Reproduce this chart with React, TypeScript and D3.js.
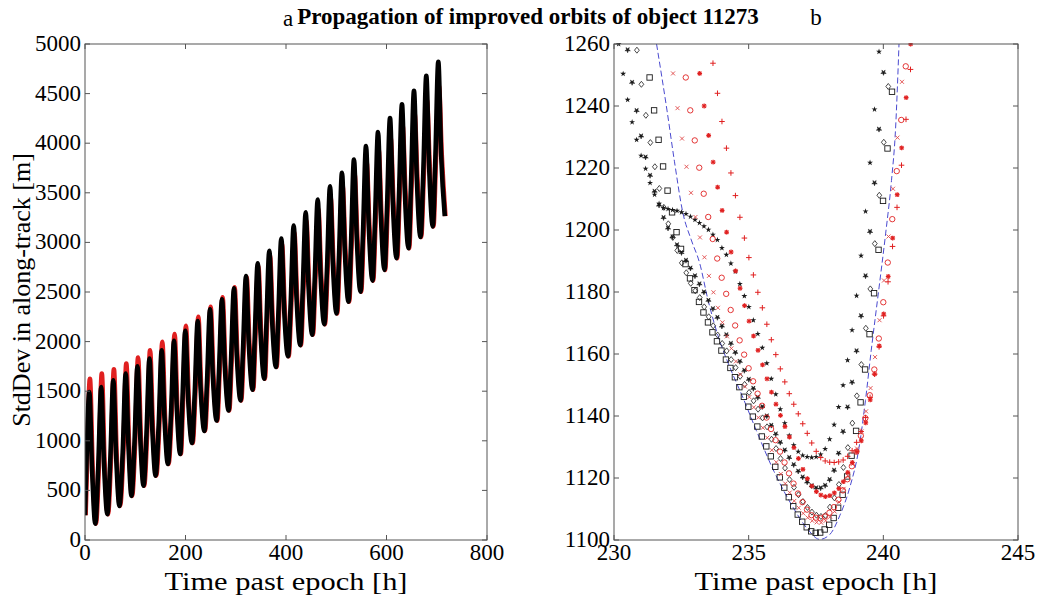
import React from 'react';
import * as d3 from 'd3';

// ---------- Panel a : long-term propagation ----------
const startPoint: [number, number] = [0, 250];
const peakTimes = [8.6, 32.2, 56.3, 81, 104.4, 128.3, 152.6, 177.1, 199.6, 224.3, 248.8, 272.6, 296.5, 320.4, 343.7, 366.8, 390.7, 415.3, 439.2, 463.1, 487.6, 511.4, 535.3, 559.2, 583.1, 607, 630.8, 654.7, 679.2, 703.1];
const blackPeakValues = [1491, 1542, 1609, 1677, 1751, 1829, 1913, 2007, 2110, 2206, 2325, 2426, 2537, 2662, 2790, 2915, 3040, 3171, 3303, 3431, 3566, 3701, 3836, 3971, 4113, 4254, 4393, 4528, 4680, 4821];
const redPeakValues = [1626, 1677, 1721, 1778, 1839, 1913, 1997, 2075, 2160, 2250, 2351, 2446, 2547, 2650, 2760, 2870, 2985, 3100, 3220, 3335, 3455, 3575, 3695, 3815, 3940, 4060, 4185, 4305, 4440, 4580];
const riseTimes = [2.6, 26.2, 50.3, 75, 98.4, 122.3, 146.6, 171.1, 193.6, 218.3, 242.8, 266.6, 290.5, 314.4, 337.7, 360.8, 384.7, 409.3, 433.2, 457.1, 481.6, 505.4, 529.3, 553.2, 577.1, 601, 624.8, 648.7, 673.2, 697.1];
const riseValues = [720, 716, 800, 878, 967, 1060, 1155, 1262, 1365, 1470, 1590, 1693, 1798, 1909, 2025, 2141, 2263, 2380, 2500, 2614, 2732, 2851, 2974, 3090, 3214, 3335, 3462, 3576, 3704, 3825];
const fallTimes = [14.2, 37.8, 61.9, 86.6, 110, 133.9, 158.2, 182.7, 205.2, 229.9, 254.4, 278.2, 302.1, 326, 349.3, 372.4, 396.3, 420.9, 444.8, 468.7, 493.2, 517, 540.9, 564.8, 588.7, 612.6, 636.4, 660.3, 684.8, 708.7];
const fallValues = [695, 773, 850, 938, 1029, 1120, 1224, 1323, 1431, 1542, 1652, 1754, 1859, 1974, 2092, 2212, 2327, 2447, 2563, 2678, 2797, 2922, 3036, 3157, 3279, 3406, 3522, 3644, 3769, 3887];
const troughTimes = [20.5, 44.5, 68.5, 92.5, 116.5, 140.5, 165, 189.5, 213, 237.6, 262, 285.8, 309.6, 333.5, 356.8, 380, 404, 428.4, 452.3, 476.2, 500.6, 524.4, 548.3, 572.2, 596.1, 620, 643.8, 667.7, 692.2, 716];
const troughValues = [165, 260, 344, 445, 547, 648, 766, 867, 978, 1100, 1204, 1306, 1407, 1515, 1626, 1744, 1852, 1964, 2070, 2176, 2284, 2402, 2503, 2615, 2723, 2841, 2942, 3054, 3161, 3265];
const redTimeShift = 1.2;

const leftXTicks = [0, 200, 400, 600, 800];
const leftYTicks = [0, 500, 1000, 1500, 2000, 2500, 3000, 3500, 4000, 4500, 5000];

// ---------- Panel b : zoom near one minimum ----------
const STEP = 1 / 6; // 10-minute sampling [h]
const pentagramStart = 230.173;
const pentagramValues = [1260, 1250.4, 1242, 1234.8, 1229.1, 1224, 1219.8, 1215.2, 1211.4, 1208.5, 1207.1, 1206.8, 1206.5, 1206.2, 1205.7, 1205.2, 1204.3, 1203.3, 1202.3, 1201.2, 1200.1, 1198.5, 1196.8, 1194.2, 1192, 1189.2, 1186.6, 1182.6, 1178.7, 1175.2, 1170.9, 1166.5, 1162, 1157, 1152, 1147, 1142.2, 1137.7, 1133.7, 1130.6, 1128.5, 1127.3, 1126.8, 1126.6, 1126.8, 1127.6, 1129.4, 1132.5, 1137.2, 1142.9, 1149.9, 1158, 1167.7, 1178.8, 1191.7, 1206, 1221.7, 1238.9, 1257.5];
const hexagramStart = 230.506;
const hexagramValues = [1258.1, 1247.6, 1238.5, 1230.3, 1223.5, 1217.6, 1212.5, 1208, 1204, 1200.6, 1197.8, 1195.2, 1192.7, 1190.2, 1187.7, 1185.2, 1182.6, 1180, 1177.3, 1174.6, 1171.8, 1169, 1166.2, 1163.4, 1160.5, 1157.6, 1154.7, 1151.8, 1148.9, 1146, 1143, 1140, 1137, 1134.2, 1131.5, 1129, 1126.6, 1124.3, 1122.2, 1120.3, 1118.7, 1117.5, 1116.8, 1116.8, 1117.6, 1119.5, 1122.5, 1128, 1135, 1142.9, 1150.9, 1161, 1172.3, 1185.2, 1199.5, 1215.2, 1232.5, 1250.8];
const diamondStart = 230.85;
const diamondValues = [1258, 1247, 1237, 1228.2, 1220.4, 1213.4, 1207.3, 1202, 1197.6, 1193.4, 1189.4, 1186.2, 1182.8, 1180.4, 1178.2, 1175.2, 1172, 1169.1, 1166.1, 1163.4, 1161, 1158.2, 1155.6, 1152.8, 1150.2, 1147.6, 1144.9, 1142.2, 1139.4, 1136.5, 1132.5, 1129.5, 1126.3, 1123.2, 1119.5, 1117, 1114.6, 1112.4, 1110.5, 1109, 1108, 1107.6, 1107.9, 1110.6, 1113.6, 1117.9, 1123.4, 1129.8, 1137.7, 1146.5, 1156.6, 1168.3, 1181, 1195.6, 1211.2, 1228.3, 1246.3];
const squareStart = 231.322;
const squareValues = [1249.2, 1238.6, 1229.1, 1220.5, 1212.7, 1205.7, 1199.3, 1193.9, 1189, 1184.4, 1180.6, 1176.8, 1173.4, 1170.2, 1167, 1164.1, 1161.1, 1158.2, 1155.5, 1152.5, 1149.3, 1146.2, 1143, 1139.8, 1136.6, 1133.4, 1130.2, 1127, 1123.6, 1120.2, 1116.9, 1113.8, 1110.9, 1108.2, 1105.9, 1104.1, 1102.8, 1102.3, 1102.4, 1103.4, 1104.9, 1107.1, 1110.4, 1114.6, 1120.5, 1127.2, 1135.2, 1144.4, 1155, 1166.4, 1179.6, 1193.6, 1209.4, 1226.3, 1244.6];
const crossStart = 232.192;
const crossValues = [1250.5, 1239.3, 1229.5, 1220.4, 1212, 1204.2, 1197.6, 1191.2, 1185.2, 1179.9, 1174.9, 1170.2, 1165.7, 1161.8, 1157.6, 1153.4, 1149.5, 1146.1, 1142.8, 1139.5, 1136.2, 1133, 1129, 1125.1, 1121.3, 1118.2, 1115.3, 1112.6, 1110.4, 1108.6, 1107.2, 1106.2, 1105.7, 1105.6, 1106.2, 1107.5, 1109.2, 1112.2, 1116.5, 1120.6, 1124.5, 1129.5, 1135, 1141.5, 1149, 1159, 1170.9, 1183.7, 1197.9, 1213.3, 1229.8, 1247.8];
const circleStart = 232.665;
const circleValues = [1249.2, 1238.6, 1228.9, 1220.1, 1211.7, 1204.2, 1197.1, 1190.8, 1184.6, 1179.4, 1174.2, 1169.2, 1164.4, 1159.8, 1155.4, 1151.2, 1147.2, 1143.3, 1139.5, 1135.8, 1132.2, 1128.5, 1125, 1121.5, 1118.2, 1115, 1112.2, 1109.8, 1108, 1107.2, 1107, 1107.6, 1108.8, 1110.6, 1113, 1116, 1119.6, 1123.8, 1128.5, 1133.6, 1139.3, 1146.7, 1155, 1165, 1176.7, 1189.5, 1203.5, 1219, 1235.5, 1252.8];
const asteriskStart = 233.181;
const asteriskValues = [1250.5, 1240, 1230.5, 1221.9, 1213.8, 1206.3, 1199.3, 1192.9, 1186.8, 1181.2, 1175.6, 1170.6, 1165.8, 1161.2, 1156.5, 1152, 1147.7, 1143.8, 1140.2, 1136.6, 1133.2, 1129.8, 1126.3, 1122.8, 1119.8, 1117.4, 1115.6, 1114.5, 1114, 1114.3, 1115.2, 1116.6, 1118.8, 1121.8, 1125, 1128.5, 1132, 1137.8, 1145.2, 1153.5, 1162.6, 1172.9, 1185, 1197.4, 1211.4, 1226.5, 1242.7, 1260];
const plusStart = 233.675;
const plusValues = [1253.8, 1244.1, 1235, 1226.4, 1218.4, 1211.1, 1204.1, 1197.4, 1191.1, 1185.5, 1179.9, 1174.9, 1169.6, 1164.6, 1159.8, 1155.2, 1151, 1147.2, 1143.8, 1140.7, 1137.5, 1134.4, 1131.3, 1128.6, 1126.6, 1125.5, 1125.1, 1125, 1125.2, 1125.8, 1127, 1128.8, 1131.5, 1135, 1139.5, 1146, 1153.5, 1162.3, 1172.3, 1183.3, 1194.7, 1207.3, 1220.9, 1235.7, 1251.8];
const envelopeTimes = [231.58, 231.978, 232.246, 232.558, 232.869, 233.181, 233.492, 233.858, 234.287, 234.76, 235.286, 235.942, 236.651, 237.145, 237.639, 238.015, 238.38, 238.756, 239.1, 239.336, 239.551, 239.82, 240.088, 240.303, 240.453, 240.582];
const envelopeValues = [1260, 1238, 1222, 1205.5, 1196.8, 1189.3, 1177.4, 1166, 1156, 1146.5, 1135.3, 1122.1, 1110.5, 1104, 1100.2, 1101.8, 1107.8, 1117, 1129.9, 1145, 1161.2, 1180, 1199, 1216, 1232.5, 1260];

const rightXTicks = [230, 235, 240, 245];
const rightYTicks = [1100, 1120, 1140, 1160, 1180, 1200, 1220, 1240, 1260];

const W = 1041;
const H = 599;
const TOP = 44;
const BOTTOM = 540;
const FONT = "'Liberation Serif', 'Times New Roman', serif";
const AXIS = '#555';
const RED = '#e02020';
const BLK = '#1a1a1a';

type MarkerType = 'pent' | 'hex' | 'diamond' | 'square' | 'cross' | 'circle' | 'asterisk' | 'plus';

const rightSeries: { type: MarkerType; start: number; values: number[] }[] = [
  { type: 'pent', start: pentagramStart, values: pentagramValues },
  { type: 'hex', start: hexagramStart, values: hexagramValues },
  { type: 'diamond', start: diamondStart, values: diamondValues },
  { type: 'square', start: squareStart, values: squareValues },
  { type: 'cross', start: crossStart, values: crossValues },
  { type: 'circle', start: circleStart, values: circleValues },
  { type: 'asterisk', start: asteriskStart, values: asteriskValues },
  { type: 'plus', start: plusStart, values: plusValues },
];

const starPath = d3.symbol().type(d3.symbolStar).size(11)() as string;
const hexPath = d3.symbol().type(d3.symbolStar).size(9)() as string;

function Marker({ type, x, y }: { type: MarkerType; x: number; y: number }) {
  switch (type) {
    case 'pent':
      return <path d={starPath} transform={`translate(${x},${y})`} fill={BLK} />;
    case 'hex':
      return <path d={hexPath} transform={`translate(${x},${y}) rotate(36)`} fill={BLK} stroke={BLK} strokeWidth={0.5} />;
    case 'diamond':
      return <path d={`M${x},${y - 3}L${x + 2.4},${y}L${x},${y + 3}L${x - 2.4},${y}Z`} fill="none" stroke={BLK} strokeWidth={0.8} />;
    case 'square':
      return <rect x={x - 2.7} y={y - 2.7} width={5.4} height={5.4} fill="none" stroke={BLK} strokeWidth={0.9} />;
    case 'cross':
      return (
        <g stroke="#e04848" strokeWidth={0.9}>
          <line x1={x - 2} y1={y - 2} x2={x + 2} y2={y + 2} />
          <line x1={x - 2} y1={y + 2} x2={x + 2} y2={y - 2} />
        </g>
      );
    case 'circle':
      return <circle cx={x} cy={y} r={2.7} fill="none" stroke={RED} strokeWidth={0.9} />;
    case 'asterisk':
      return (
        <g stroke={RED} strokeWidth={1.2}>
          <line x1={x - 2.4} y1={y} x2={x + 2.4} y2={y} />
          <line x1={x} y1={y - 2.4} x2={x} y2={y + 2.4} />
          <line x1={x - 1.8} y1={y - 1.8} x2={x + 1.8} y2={y + 1.8} />
          <line x1={x - 1.8} y1={y + 1.8} x2={x + 1.8} y2={y - 1.8} />
        </g>
      );
    case 'plus':
      return (
        <g stroke={RED} strokeWidth={1}>
          <line x1={x - 2.8} y1={y} x2={x + 2.8} y2={y} />
          <line x1={x} y1={y - 2.8} x2={x} y2={y + 2.8} />
        </g>
      );
  }
  return null;
}

function Frame({ x0, x1, xTicks, yTicks, xs, ys }: any) {
  const tl = 5;
  return (
    <g>
      <rect x={x0} y={TOP} width={x1 - x0} height={BOTTOM - TOP} fill="none" stroke={AXIS} strokeWidth={1} />
      {xTicks.map((t: number) => (
        <g key={'x' + t}>
          <line x1={xs(t)} x2={xs(t)} y1={BOTTOM} y2={BOTTOM - tl} stroke={AXIS} />
          <line x1={xs(t)} x2={xs(t)} y1={TOP} y2={TOP + tl} stroke={AXIS} />
          <text x={xs(t)} y={BOTTOM + 20} textAnchor="middle" fontSize={23} fontFamily={FONT} fill="#000">{t}</text>
        </g>
      ))}
      {yTicks.map((t: number) => (
        <g key={'y' + t}>
          <line x1={x0} x2={x0 + tl} y1={ys(t)} y2={ys(t)} stroke={AXIS} />
          <line x1={x1} x2={x1 - tl} y1={ys(t)} y2={ys(t)} stroke={AXIS} />
          <text x={x0 - 4} y={ys(t) + 7} textAnchor="end" fontSize={23} fontFamily={FONT} fill="#000">{t}</text>
        </g>
      ))}
    </g>
  );
}

export default function App() {
  // panel a scales
  const xa = d3.scaleLinear().domain([0, 800]).range([85, 487]);
  const ya = d3.scaleLinear().domain([0, 5000]).range([BOTTOM, TOP]);
  // panel b scales
  const xb = d3.scaleLinear().domain([230, 245]).range([614, 1018]);
  const yb = d3.scaleLinear().domain([1100, 1260]).range([BOTTOM, TOP]);

  const buildSeries = (peaks: number[], shift: number): [number, number][] => {
    const pts: [number, number][] = [[startPoint[0] + shift, startPoint[1]]];
    peakTimes.forEach((pt, k) => {
      pts.push([riseTimes[k] + shift, riseValues[k]]);
      pts.push([pt + shift, peaks[k]]);
      pts.push([fallTimes[k] + shift, fallValues[k]]);
      pts.push([troughTimes[k] + shift, troughValues[k]]);
    });
    return pts;
  };
  const lineA = d3.line<[number, number]>().x((d) => xa(d[0])).y((d) => ya(d[1])).curve(d3.curveMonotoneX);
  const redPath = lineA(buildSeries(redPeakValues, redTimeShift)) || '';
  const blackPath = lineA(buildSeries(blackPeakValues, 0)) || '';

  const envPts: [number, number][] = envelopeTimes.map((t, i) => [t, envelopeValues[i]]);
  const envPath = d3.line<[number, number]>().x((d) => xb(d[0])).y((d) => yb(d[1])).curve(d3.curveMonotoneX)(envPts) || '';

  return (
    <svg width={W} height={H} style={{ position: 'absolute', left: 0, top: 0, background: '#fff' }}>
      <defs>
        <clipPath id="clipA"><rect x={85} y={TOP} width={402} height={BOTTOM - TOP} /></clipPath>
        <clipPath id="clipB"><rect x={614} y={TOP - 1} width={404} height={BOTTOM - TOP + 1} /></clipPath>
      </defs>
      <rect x={0} y={0} width={W} height={H} fill="#fff" />

      {/* title */}
      <text x={528} y={24} textAnchor="middle" fontSize={23} fontWeight="bold" fontFamily={FONT}>Propagation of improved orbits of object 11273</text>
      <text x={288} y={26} textAnchor="middle" fontSize={23} fontFamily={FONT}>a</text>
      <text x={816} y={25} textAnchor="middle" fontSize={23} fontFamily={FONT}>b</text>

      {/* panel a */}
      <g clipPath="url(#clipA)">
        <path d={redPath} fill="none" stroke={RED} strokeWidth={4.6} strokeLinejoin="round" />
        <path d={blackPath} fill="none" stroke="#000" strokeWidth={4.6} strokeLinejoin="round" />
      </g>
      <Frame x0={85} x1={487} xTicks={leftXTicks} yTicks={leftYTicks} xs={xa} ys={ya} />
      <text x={286} y={590} textAnchor="middle" fontSize={25} fontFamily={FONT} textLength={243} lengthAdjust="spacingAndGlyphs">Time past epoch [h]</text>
      <text transform={`translate(30,290) rotate(-90)`} textAnchor="middle" fontSize={26} fontFamily={FONT}>StdDev in along-track [m]</text>

      {/* panel b */}
      <g clipPath="url(#clipB)">
        <path d={envPath} fill="none" stroke="#4a4ad0" strokeWidth={1} strokeDasharray="6,3" />
        {rightSeries.map((s) =>
          s.values.map((v, i) => (
            <Marker key={s.type + i} type={s.type} x={xb(s.start + i * STEP)} y={yb(v)} />
          ))
        )}
      </g>
      <Frame x0={614} x1={1018} xTicks={rightXTicks} yTicks={rightYTicks} xs={xb} ys={yb} />
      <text x={816} y={590} textAnchor="middle" fontSize={25} fontFamily={FONT} textLength={243} lengthAdjust="spacingAndGlyphs">Time past epoch [h]</text>
    </svg>
  );
}
